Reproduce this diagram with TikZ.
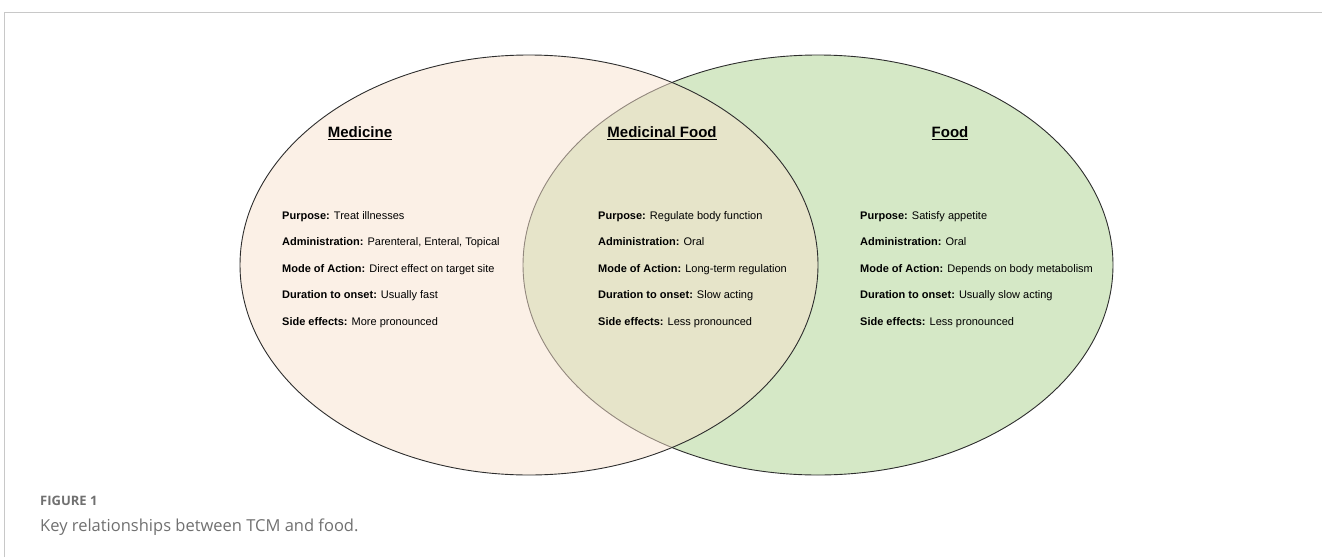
\documentclass[tikz,border=0pt]{standalone}
\usepackage{fontspec}
\setmainfont{Liberation Sans}
\newfontfamily\captionfont{Open Sans}
\usetikzlibrary{positioning}
\definecolor{medfill}{RGB}{247,225,205}
\definecolor{foodfill}{RGB}{213,232,198}
\definecolor{rimcol}{RGB}{45,45,45}
\definecolor{framegray}{RGB}{200,200,200}
\definecolor{capgray}{RGB}{112,112,112}
\tikzset{
  headline/.style={inner sep=0pt, font=\fontsize{15}{18}\selectfont\bfseries},
  itemline/.style={inner sep=0pt, anchor=base west, font=\fontsize{11}{13}\selectfont},
  nextline/.style={itemline, below=26.5pt of #1.base west, anchor=base west},
  setrim/.style={draw=rimcol, line width=0.9pt}
}
\begin{document}
\begin{tikzpicture}[x=1pt,y=-1pt]
	\useasboundingbox (0,0) rectangle (1322,557);
	% page frame
	\draw[framegray, line width=1pt] (4,557) -- (4,12) -- (1322,12);
	
	% the two sets
	\draw[setrim, fill=foodfill] (818,265) ellipse [x radius=295, y radius=210];
	\draw[setrim, fill=medfill, fill opacity=0.5] (529,265) ellipse [x radius=289, y radius=210];
	
	% headings
	\node[headline] (medicine) at (360,133) {\underline{Medicine}};
	\node[headline] (medfood) at (662,133) {\underline{Medicinal Food}};
	\node[headline] (food) at (950,133) {\underline{Food}};
	
	% medicine
	\node[itemline] (medPurpose) at (282,219) {\textbf{Purpose:} Treat illnesses};
	\node[nextline=medPurpose] (medAdmin) {\textbf{Administration:} Parenteral, Enteral, Topical};
	\node[nextline=medAdmin] (medMode) {\textbf{Mode of Action:} Direct effect on target site};
	\node[nextline=medMode] (medOnset) {\textbf{Duration to onset:} Usually fast};
	\node[nextline=medOnset] (medSide) {\textbf{Side effects:} More pronounced};
	
	% medicinal food
	\node[itemline] (mfPurpose) at (598,219) {\textbf{Purpose:} Regulate body function};
	\node[nextline=mfPurpose] (mfAdmin) {\textbf{Administration:} Oral};
	\node[nextline=mfAdmin] (mfMode) {\textbf{Mode of Action:} Long-term regulation};
	\node[nextline=mfMode] (mfOnset) {\textbf{Duration to onset:} Slow acting};
	\node[nextline=mfOnset] (mfSide) {\textbf{Side effects:} Less pronounced};
	
	% food
	\node[itemline] (foodPurpose) at (860,219) {\textbf{Purpose:} Satisfy appetite};
	\node[nextline=foodPurpose] (foodAdmin) {\textbf{Administration:} Oral};
	\node[nextline=foodAdmin] (foodMode) {\textbf{Mode of Action:} Depends on body metabolism};
	\node[nextline=foodMode] (foodOnset) {\textbf{Duration to onset:} Usually slow acting};
	\node[nextline=foodOnset] (foodSide) {\textbf{Side effects:} Less pronounced};
	
	% caption
	\node[inner sep=0pt, anchor=base west, text=capgray, font=\captionfont\fontsize{13}{15}\selectfont\bfseries] (figlabel) at (40,505) {FIGURE 1};
	\node[inner sep=0pt, anchor=base west, text=capgray, font=\captionfont\fontsize{16.5}{19}\selectfont] (figcaption) at (40,531) {Key relationships between TCM and food.};
\end{tikzpicture}
\end{document}
